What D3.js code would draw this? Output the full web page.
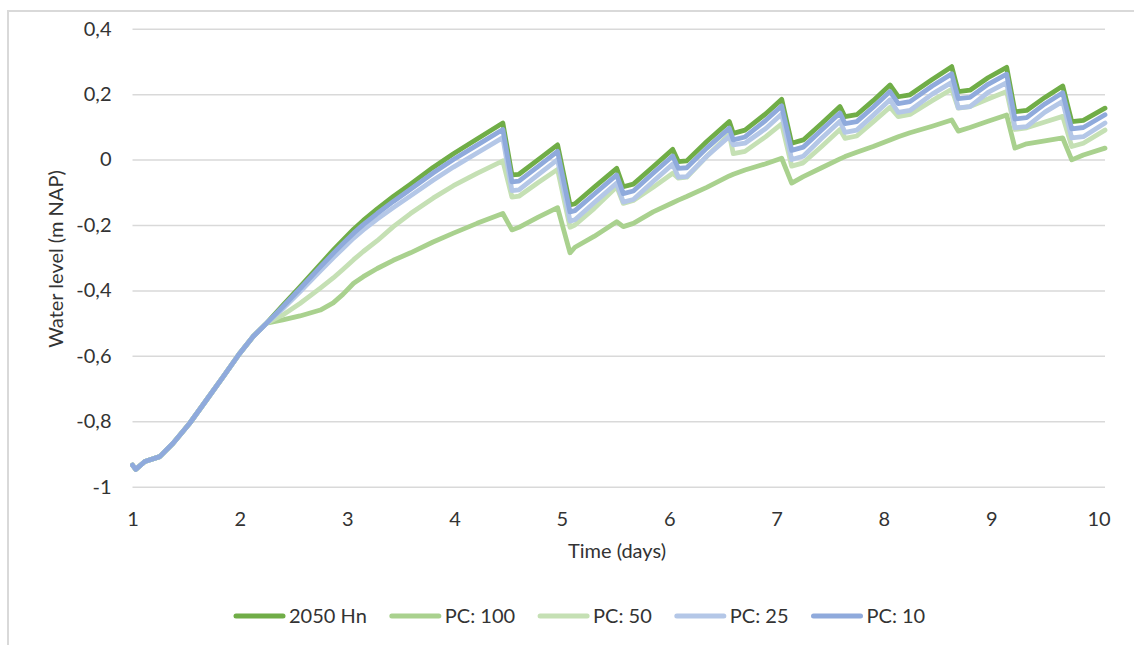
<!DOCTYPE html>
<html>
<head>
<meta charset="utf-8">
<script src="https://cdn.jsdelivr.net/npm/d3@7/dist/d3.min.js"></script>
<style>
  html, body { margin: 0; padding: 0; background: #fff; }
  svg { display: block; font-family: Lato, "Open Sans", sans-serif; }
</style>
</head>
<body>
<svg id="chart" width="1134" height="645"></svg>
<script>
// Time axis (days)
const days = [
  1.0, 1.03, 1.115, 1.254, 1.378, 1.533, 1.689, 1.844, 2.0, 2.124, 2.25,
  2.4, 2.56, 2.75, 2.87, 2.96, 3.06, 3.15, 3.28, 3.43, 3.59, 3.8, 3.99, 4.21, 4.45,
  4.535, 4.6, 4.78, 4.96, 5.076, 5.122, 5.3, 5.511, 5.572, 5.666, 5.85, 6.033, 6.085, 6.163,
  6.35, 6.56, 6.597, 6.706, 6.9, 7.048, 7.141, 7.249, 7.42, 7.591, 7.638, 7.747, 7.9, 8.057,
  8.134, 8.243, 8.45, 8.632, 8.693, 8.802, 8.97, 9.144, 9.221, 9.33, 9.5, 9.666, 9.75, 9.858, 10.06
];

// Water level (m NAP) per scenario
const hn2050 = [
  -0.934, -0.947, -0.923, -0.908, -0.867, -0.806, -0.735, -0.664, -0.592, -0.541, -0.500,
  -0.446, -0.389, -0.320, -0.277, -0.246, -0.213, -0.186, -0.151, -0.113, -0.075, -0.024, 0.018, 0.063, 0.112,
  -0.047, -0.045, 0.000, 0.045, -0.139, -0.135, -0.085, -0.027, -0.083, -0.075, -0.022, 0.031, -0.006, -0.004,
  0.055, 0.116, 0.080, 0.090, 0.140, 0.184, 0.050, 0.060, 0.110, 0.162, 0.131, 0.137, 0.180, 0.228,
  0.192, 0.198, 0.245, 0.284, 0.208, 0.212, 0.250, 0.282, 0.146, 0.150, 0.190, 0.225, 0.116, 0.120, 0.157
];
const pc100 = [
  -0.934, -0.947, -0.923, -0.908, -0.867, -0.806, -0.735, -0.664, -0.592, -0.541, -0.500,
  -0.490, -0.478, -0.460, -0.438, -0.412, -0.378, -0.358, -0.333, -0.308, -0.285, -0.252, -0.225, -0.195, -0.165,
  -0.215, -0.207, -0.176, -0.147, -0.285, -0.268, -0.235, -0.190, -0.205, -0.195, -0.160, -0.132, -0.124, -0.113,
  -0.085, -0.050, -0.045, -0.032, -0.013, 0.004, -0.072, -0.052, -0.025, 0.002, 0.009, 0.022, 0.040, 0.060,
  0.070, 0.082, 0.102, 0.121, 0.087, 0.098, 0.117, 0.136, 0.035, 0.048, 0.057, 0.066, -0.001, 0.014, 0.035
];
const pc50 = [
  -0.934, -0.947, -0.923, -0.908, -0.867, -0.806, -0.735, -0.664, -0.592, -0.541, -0.500,
  -0.475, -0.440, -0.393, -0.362, -0.336, -0.306, -0.281, -0.248, -0.205, -0.165, -0.118, -0.080, -0.042, -0.004,
  -0.115, -0.112, -0.070, -0.030, -0.207, -0.200, -0.150, -0.083, -0.134, -0.125, -0.085, -0.042, -0.057, -0.054,
  0.010, 0.077, 0.018, 0.025, 0.070, 0.109, -0.020, -0.010, 0.040, 0.092, 0.065, 0.072, 0.115, 0.160,
  0.131, 0.138, 0.180, 0.215, 0.157, 0.162, 0.185, 0.208, 0.092, 0.097, 0.115, 0.132, 0.040, 0.050, 0.090
];
const pc25 = [
  -0.934, -0.947, -0.923, -0.908, -0.867, -0.806, -0.735, -0.664, -0.592, -0.541, -0.500,
  -0.456, -0.404, -0.340, -0.300, -0.272, -0.240, -0.215, -0.182, -0.147, -0.111, -0.063, -0.023, 0.020, 0.067,
  -0.095, -0.093, -0.046, 0.000, -0.188, -0.184, -0.132, -0.072, -0.130, -0.122, -0.067, -0.014, -0.054, -0.052,
  0.010, 0.071, 0.045, 0.050, 0.095, 0.139, 0.000, 0.010, 0.065, 0.117, 0.083, 0.090, 0.135, 0.183,
  0.144, 0.150, 0.200, 0.236, 0.158, 0.162, 0.205, 0.235, 0.097, 0.101, 0.145, 0.178, 0.066, 0.070, 0.112
];
const pc10 = [
  -0.934, -0.947, -0.923, -0.908, -0.867, -0.806, -0.735, -0.664, -0.592, -0.541, -0.500,
  -0.450, -0.395, -0.328, -0.287, -0.257, -0.225, -0.199, -0.165, -0.128, -0.091, -0.041, 0.000, 0.044, 0.092,
  -0.068, -0.066, -0.021, 0.025, -0.160, -0.156, -0.106, -0.047, -0.104, -0.096, -0.042, 0.011, -0.027, -0.025,
  0.035, 0.096, 0.060, 0.069, 0.120, 0.164, 0.028, 0.038, 0.090, 0.142, 0.110, 0.116, 0.160, 0.208,
  0.171, 0.177, 0.225, 0.262, 0.186, 0.190, 0.230, 0.261, 0.124, 0.128, 0.170, 0.204, 0.094, 0.098, 0.137
];

const seriesNames = ["2050 Hn", "PC: 100", "PC: 50", "PC: 25", "PC: 10"];
const seriesValues = [hn2050, pc100, pc50, pc25, pc10];
const seriesColors = ["#70AD47", "#A9D18E", "#C5E0B4", "#B4C7E7", "#8FAADC"];

const xTicks = [1, 2, 3, 4, 5, 6, 7, 8, 9, 10];
const yTicks = [0.4, 0.2, 0, -0.2, -0.4, -0.6, -0.8, -1];
const yTickLabels = ["0,4", "0,2", "0", "-0,2", "-0,4", "-0,6", "-0,8", "-1"];

const textColor = "#333333";
const gridColor = "#d9d9d9";

const svg = d3.select("#chart");

// chart frame
svg.append("rect")
  .attr("x", 8).attr("y", 11)
  .attr("width", 1140).attr("height", 650)
  .attr("fill", "#fff")
  .attr("stroke", gridColor).attr("stroke-width", 2);

const plot = { left: 132.5, right: 1105, top: 28.7, bottom: 486.7 };

const x = d3.scaleLinear().domain([1, 10.06]).range([plot.left, plot.right]);
const y = d3.scaleLinear().domain([-1, 0.4]).range([plot.bottom, plot.top]);

// y axis with horizontal gridlines
const yAxis = svg.append("g")
  .attr("transform", `translate(${plot.left},0)`)
  .call(d3.axisLeft(y)
    .tickValues(yTicks)
    .tickSize(-(plot.right - plot.left))
    .tickPadding(21)
    .tickFormat((d, i) => yTickLabels[i]));
yAxis.select(".domain").remove();
yAxis.selectAll(".tick line").attr("stroke", gridColor).attr("stroke-width", 1.5);
yAxis.selectAll(".tick text")
  .attr("fill", textColor)
  .style("font-size", "20px")
  .style("font-family", "Lato, sans-serif");

// x axis labels
const xAxis = svg.append("g")
  .attr("transform", `translate(0,${plot.bottom})`)
  .call(d3.axisBottom(x)
    .tickValues(xTicks)
    .tickSize(0)
    .tickPadding(25)
    .tickFormat(d3.format("d")));
xAxis.select(".domain").remove();
xAxis.selectAll(".tick text")
  .attr("fill", textColor)
  .style("font-size", "20px")
  .style("font-family", "Lato, sans-serif");

// axis titles
svg.append("text")
  .attr("x", 617).attr("y", 558)
  .attr("text-anchor", "middle")
  .attr("fill", textColor)
  .style("font-size", "20px")
  .text("Time (days)");

svg.append("text")
  .attr("transform", "translate(63,259) rotate(-90)")
  .attr("text-anchor", "middle")
  .attr("fill", textColor)
  .style("font-size", "20px")
  .text("Water level (m NAP)");

// series lines
const line = d3.line()
  .x((d, i) => x(days[i]))
  .y(d => y(d));

svg.append("g").selectAll("path")
  .data(seriesValues)
  .join("path")
  .attr("d", d => line(d))
  .attr("fill", "none")
  .attr("stroke", (d, i) => seriesColors[i])
  .attr("stroke-width", 4.8)
  .attr("stroke-linejoin", "round")
  .attr("stroke-linecap", "round");

// legend
const legend = svg.append("g");
let lx = 236;
const ly = 616;
seriesNames.forEach((name, i) => {
  legend.append("line")
    .attr("x1", lx).attr("x2", lx + 47)
    .attr("y1", ly).attr("y2", ly)
    .attr("stroke", seriesColors[i])
    .attr("stroke-width", 5)
    .attr("stroke-linecap", "round");
  const t = legend.append("text")
    .attr("x", lx + 53).attr("y", ly)
    .attr("dy", "0.35em")
    .attr("fill", textColor)
    .style("font-size", "20px")
    .text(name);
  lx = lx + 53 + t.node().getComputedTextLength() + 25;
});
</script>
</body>
</html>
